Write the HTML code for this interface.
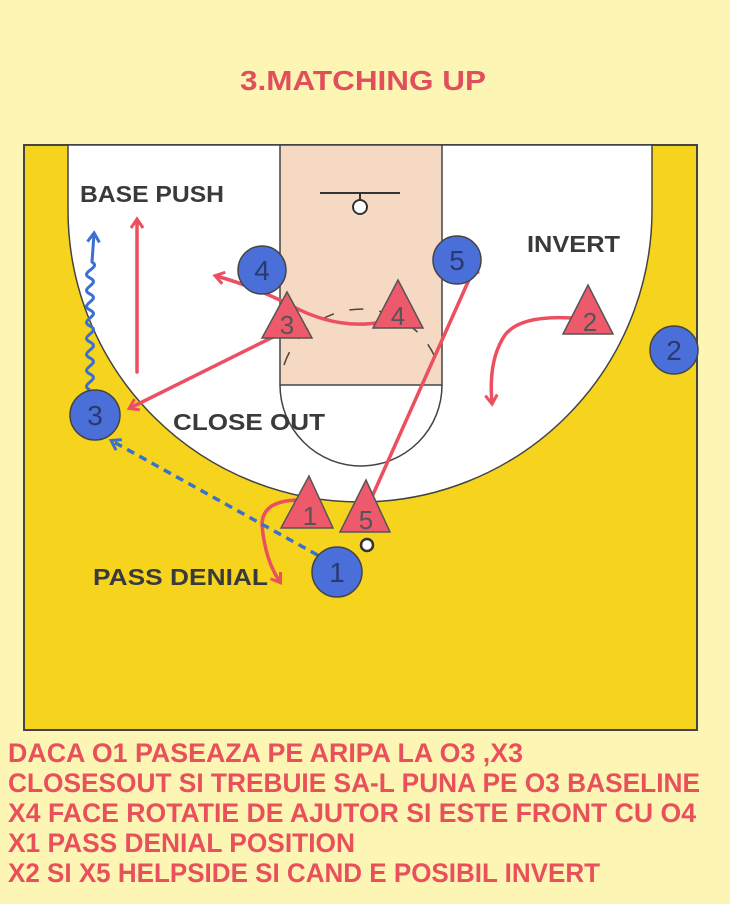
<!DOCTYPE html>
<html><head><meta charset="utf-8"><style>
html,body{margin:0;padding:0;background:#fdf5b4;}
svg{display:block;}
</style></head><body>
<svg width="730" height="904" viewBox="0 0 730 904" xmlns="http://www.w3.org/2000/svg">
<defs>
<marker id="ar" markerWidth="14" markerHeight="14" refX="9" refY="7" orient="auto" markerUnits="userSpaceOnUse" viewBox="0 0 14 14"><path d="M1,1 L10,7 L1,13" fill="none" stroke="#ec4f5f" stroke-width="3"/></marker>
<marker id="ab" markerWidth="14" markerHeight="14" refX="9" refY="7" orient="auto" markerUnits="userSpaceOnUse" viewBox="0 0 14 14"><path d="M1,1 L10,7 L1,13" fill="none" stroke="#3b6fd0" stroke-width="3"/></marker>
</defs>
<rect width="730" height="904" fill="#fdf5b4"/>
<text x="240" y="90" font-family="Liberation Sans, sans-serif" font-weight="bold" font-size="28" fill="#e0505c" textLength="246" lengthAdjust="spacingAndGlyphs">3.MATCHING UP</text>
<!-- court -->
<rect x="24" y="145" width="673" height="585" fill="#f6d41e" stroke="#444" stroke-width="2"/>
<path d="M68,145 L68,210 A292,292 0 0 0 652,210 L652,145 Z" fill="#fff" stroke="#444" stroke-width="1.5"/>
<rect x="280" y="145" width="162" height="240" fill="#f6d9c2" stroke="#444" stroke-width="1.5"/>
<path d="M280,385 A81,81 0 0 0 442,385" fill="none" stroke="#444" stroke-width="1.5"/>
<path d="M284,365 A81,81 0 0 1 438,365" fill="none" stroke="#444" stroke-width="1.5" stroke-dasharray="14,16"/>
<line x1="320" y1="193" x2="400" y2="193" stroke="#333" stroke-width="2"/>
<line x1="360" y1="193" x2="360" y2="200" stroke="#333" stroke-width="2"/>
<circle cx="360" cy="207" r="7" fill="#fff" stroke="#333" stroke-width="2"/>
<!-- labels -->
<g font-family="Liberation Sans, sans-serif" font-weight="bold" font-size="23" fill="#3a3a3a">
<text x="80" y="202" textLength="144" lengthAdjust="spacingAndGlyphs">BASE PUSH</text>
<text x="527" y="252" textLength="93" lengthAdjust="spacingAndGlyphs">INVERT</text>
<text x="173" y="430" textLength="152" lengthAdjust="spacingAndGlyphs">CLOSE OUT</text>
<text x="93" y="585" textLength="175" lengthAdjust="spacingAndGlyphs">PASS DENIAL</text>
</g>
<!-- arrows -->
<g fill="none" stroke="#ec4f5f" stroke-width="3.5" stroke-linecap="round">
<line x1="137" y1="372" x2="137" y2="220" marker-end="url(#ar)"/>
<line x1="275" y1="336" x2="130" y2="408" marker-end="url(#ar)"/>
<path d="M398,318 Q345,335 290,305 Q250,285 216,276" marker-end="url(#ar)"/>
<line x1="367" y1="508" x2="476" y2="264" marker-end="url(#ar)"/>
<path d="M572,318 Q520,315 505,335 Q488,360 492,403" marker-end="url(#ar)"/>
<path d="M300,500 Q262,500 262,525 Q265,560 280,582" marker-end="url(#ar)"/>
</g>
<path d="M90,390 C78,384 102,380 90,374 C78,368 102,364 90,358 C78,352 102,348 90,342 C78,336 102,332 90,326 C78,320 102,316 90,310 C78,304 102,300 90,294 C78,288 102,284 90,278 C78,272 102,268 92,262 L94,234" fill="none" stroke="#3b6fd0" stroke-width="3" marker-end="url(#ab)"/>
<line x1="330" y1="562" x2="112" y2="441" stroke="#3b6fd0" stroke-width="3.5" stroke-dasharray="8,6" marker-end="url(#ab)"/>
<!-- triangles -->
<g fill="#ec5a6c" stroke="#555" stroke-width="1.5">
<path d="M287,292 L262,338 L312,338 Z"/>
<path d="M398,280 L373,328 L423,328 Z"/>
<path d="M588,285 L563,334 L613,334 Z"/>
<path d="M309,476 L281,528 L333,528 Z"/>
<path d="M366,480 L340,532 L390,532 Z"/>
</g>
<g font-family="Liberation Sans, sans-serif" font-size="26" fill="#555" text-anchor="middle">
<text x="287" y="334">3</text><text x="398" y="325">4</text><text x="590" y="331">2</text>
<text x="310" y="525">1</text><text x="366" y="529">5</text>
</g>
<circle cx="367" cy="545" r="6" fill="#fff" stroke="#333" stroke-width="2.5"/>
<!-- circles -->
<g fill="#4a6fd8" stroke="#444" stroke-width="1.5">
<circle cx="262" cy="270" r="24"/><circle cx="457" cy="260" r="24"/>
<circle cx="674" cy="350" r="24"/><circle cx="95" cy="415" r="25"/>
<circle cx="337" cy="572" r="25"/>
</g>
<g font-family="Liberation Sans, sans-serif" font-size="28" fill="#2a3a70" text-anchor="middle">
<text x="262" y="280">4</text><text x="457" y="270">5</text><text x="674" y="360">2</text>
<text x="95" y="425">3</text><text x="337" y="582">1</text>
</g>
<!-- bottom text -->
<g font-family="Liberation Sans, sans-serif" font-weight="bold" font-size="27" fill="#e8505c">
<text x="8" y="762" textLength="515" lengthAdjust="spacingAndGlyphs">DACA O1 PASEAZA PE ARIPA LA O3 ,X3</text>
<text x="8" y="792" textLength="692" lengthAdjust="spacingAndGlyphs">CLOSESOUT SI TREBUIE SA-L PUNA PE O3 BASELINE</text>
<text x="8" y="822" textLength="688" lengthAdjust="spacingAndGlyphs">X4 FACE ROTATIE DE AJUTOR SI ESTE FRONT CU O4</text>
<text x="8" y="852" textLength="347" lengthAdjust="spacingAndGlyphs">X1 PASS DENIAL POSITION</text>
<text x="8" y="882" textLength="592" lengthAdjust="spacingAndGlyphs">X2 SI X5 HELPSIDE SI CAND E POSIBIL INVERT</text>
</g>
</svg>
</body></html>
